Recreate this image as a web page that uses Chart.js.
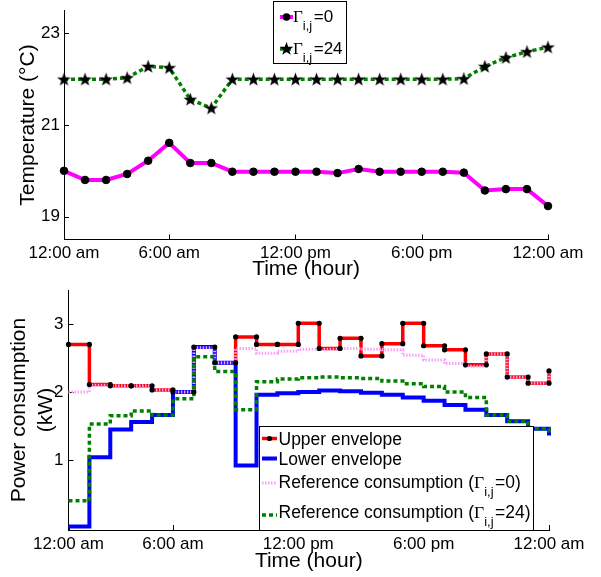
<!DOCTYPE html>
<html>
<head>
<meta charset="utf-8">
<script src="https://cdn.jsdelivr.net/npm/chart.js@4.4.0/dist/chart.umd.min.js"></script>
<style>
  html, body { margin: 0; padding: 0; background: #ffffff; }
  #c1 { position: absolute; left: 0; top: 0; }
  #c2 { position: absolute; left: 0; top: 283px; }
</style>
</head>
<body>
<canvas id="c1" width="601" height="283"></canvas>
<canvas id="c2" width="601" height="294"></canvas>
<script>
// ---------------- data ----------------
const hours = [1,2,3,4,5,6,7,8,9,10,11,12,13,14,15,16,17,18,19,20,21,22,23,24];
const timeTickValues = [1, 6, 12, 18, 24];
const timeTickLabels = ['12:00 am', '6:00 am', '12:00 pm', '6:00 pm', '12:00 am'];

const tempTicks = [19, 21, 23];
const tempGamma0  = [20.00, 19.80, 19.80, 19.93, 20.22, 20.61, 20.17, 20.17, 19.98, 19.98, 19.98, 19.98,
                     19.98, 19.95, 20.04, 19.98, 19.98, 19.98, 19.98, 19.96, 19.57, 19.60, 19.60, 19.23];
const tempGamma24 = [22.00, 22.00, 22.00, 22.03, 22.28, 22.25, 21.56, 21.37, 22.00, 22.00, 22.00, 22.00,
                     22.00, 22.00, 22.00, 22.00, 22.00, 22.00, 22.00, 22.01, 22.28, 22.47, 22.60, 22.70];

const powerTicks = [1, 2, 3];
const upperEnvelope = [2.70, 2.11, 2.09, 2.09, 2.03, 2.00, 2.66, 2.43, 2.81, 2.70, 2.70, 3.01,
                       2.64, 2.79, 2.53, 2.71, 3.01, 2.68, 2.62, 2.40, 2.56, 2.22, 2.13, 2.31];
const lowerEnvelope = [0.02, 1.04, 1.45, 1.56, 1.66, 2.00, 2.66, 2.43, 0.92, 1.96, 1.98, 2.00,
                       2.02, 2.01, 1.99, 1.96, 1.92, 1.87, 1.81, 1.74, 1.66, 1.57, 1.46, 1.36];
const refGamma0     = [2.00, 2.10, 2.09, 2.09, 2.03, 2.00, 2.65, 2.43, 2.64, 2.57, 2.60, 2.63,
                       2.63, 2.64, 2.63, 2.62, 2.54, 2.47, 2.42, 2.38, 2.56, 2.22, 2.13, 2.31];
const refGamma24    = [0.40, 1.53, 1.65, 1.72, 1.66, 1.90, 2.52, 2.30, 1.74, 2.15, 2.19, 2.21,
                       2.22, 2.21, 2.20, 2.16, 2.12, 2.08, 2.00, 1.92, 1.66, 1.57, 1.46, 1.36];

const seriesNamesTop = ['\u0393i,j=0', '\u0393i,j=24'];
const seriesNamesBottom = ['Upper envelope', 'Lower envelope',
  'Reference consumption (\u0393i,j=0)', 'Reference consumption (\u0393i,j=24)'];

// ---------------- helpers ----------------
const SANS = '"Liberation Sans", Arial, Helvetica, sans-serif';
const SERIF = '"Liberation Serif", "Times New Roman", serif';
Chart.defaults.font.family = SANS;
Chart.defaults.color = '#000';

const toXY = (xs, ys) => xs.map((x, i) => ({ x: x, y: ys[i] }));
// stairs vertices (like MATLAB stairs markers)
const stairVertices = (xs, ys) => {
  const out = [{ x: xs[0], y: ys[0] }];
  for (let i = 1; i < xs.length; i++) {
    out.push({ x: xs[i], y: ys[i - 1] });
    out.push({ x: xs[i], y: ys[i] });
  }
  return out;
};

const starImg = (() => {
  const c = document.createElement('canvas');
  c.width = 15; c.height = 15;
  const g = c.getContext('2d');
  g.fillStyle = '#000';
  g.beginPath();
  for (let k = 0; k < 10; k++) {
    const r = (k % 2 === 0) ? 7.2 : 2.9;
    const a = -Math.PI / 2 + k * Math.PI / 5;
    const px = 7.5 + r * Math.cos(a), py = 8.0 + r * Math.sin(a);
    if (k === 0) g.moveTo(px, py); else g.lineTo(px, py);
  }
  g.closePath();
  g.fill();
  return c;
})();

function fixedAxis(size, horizontal) {
  return function (scale) {
    if (horizontal) scale.height = size; else scale.width = size;
    scale.paddingTop = 0; scale.paddingBottom = 0;
    scale.paddingLeft = 0; scale.paddingRight = 0;
  };
}

const inwardTicks = {
  id: 'inwardTicks',
  beforeDatasetsDraw(chart) {
    const ctx = chart.ctx, a = chart.chartArea;
    const xs = chart.scales.x, ys = chart.scales.y;
    ctx.save();
    ctx.strokeStyle = '#000';
    ctx.lineWidth = 1;
    ctx.beginPath();
    xs.ticks.forEach(t => {
      const px = Math.round(xs.getPixelForValue(t.value)) + 0.5;
      ctx.moveTo(px, a.bottom);
      ctx.lineTo(px, a.bottom - 5);
    });
    ys.ticks.forEach(t => {
      const py = Math.round(ys.getPixelForValue(t.value)) + 0.5;
      ctx.moveTo(a.left, py);
      ctx.lineTo(a.left + 5, py);
    });
    ctx.stroke();
    ctx.restore();
  }
};

function makeLegend(cfg) {
  return {
    id: 'richLegend',
    afterDraw(chart) {
      const ctx = chart.ctx;
      const b = cfg.box;
      ctx.save();
      ctx.fillStyle = '#fff';
      ctx.fillRect(b.x, b.y, b.w, b.h);
      ctx.strokeStyle = '#000';
      ctx.lineWidth = 1;
      ctx.strokeRect(b.x + 0.5, b.y + 0.5, b.w, b.h);
      cfg.items.forEach(it => {
        const s = it.sample;
        ctx.save();
        ctx.strokeStyle = s.color;
        ctx.lineWidth = s.width;
        ctx.setLineDash(s.dash || []);
        ctx.beginPath();
        ctx.moveTo(s.x1, s.y);
        ctx.lineTo(s.x2, s.y);
        ctx.stroke();
        ctx.restore();
        const cx = (s.x1 + s.x2) / 2;
        if (s.marker === 'circle') {
          ctx.fillStyle = '#000';
          ctx.beginPath();
          ctx.arc(cx, s.y, s.r, 0, Math.PI * 2);
          ctx.fill();
        } else if (s.marker === 'star') {
          ctx.drawImage(starImg, cx - 7.5, s.y - 8);
        }
        let x = it.x;
        ctx.fillStyle = '#000';
        ctx.textAlign = 'left';
        ctx.textBaseline = 'alphabetic';
        it.parts.forEach(p => {
          ctx.font = p.font;
          ctx.fillText(p.t, x, it.y + (p.dy || 0));
          x += ctx.measureText(p.t).width + (p.gap || 0);
        });
      });
      ctx.restore();
    }
  };
}

function splitGamma(label, size) {
  // label like 'prefix Γi,j=val suffix' -> rich parts with subscript
  const gi = label.indexOf('\u0393');
  const pre = label.slice(0, gi);
  const rest = label.slice(gi + 1);         // 'i,j=0)'
  const sub = rest.slice(0, 3);             // 'i,j'
  const post = rest.slice(3);               // '=0)'
  const parts = [];
  if (pre) parts.push({ t: pre, font: size + 'px ' + SANS });
  parts.push({ t: '\u0393', font: size + 'px ' + SERIF });
  parts.push({ t: sub, font: '13px ' + SANS, dy: 8, gap: 1.5 });
  parts.push({ t: post, font: size + 'px ' + SANS });
  return parts;
}

const tickFont = { size: 17 };
const titleFont = { size: 21, lineHeight: 1.2 };

function timeAxis(heightPx, titlePadBottom) {
  return {
    type: 'linear',
    min: 1, max: 24,
    afterBuildTicks: (s) => { s.ticks = timeTickValues.map(v => ({ value: v })); },
    afterFit: fixedAxis(heightPx, true),
    ticks: {
      font: tickFont, padding: 4, maxRotation: 0, autoSkip: false,
      callback: (v) => timeTickLabels[timeTickValues.indexOf(v)]
    },
    grid: { display: false, drawTicks: false },
    border: { display: true, color: '#000', width: 1 },
    title: { display: true, text: 'Time (hour)', font: titleFont, padding: { top: 0, bottom: titlePadBottom } }
  };
}

// ---------------- chart 1: temperature ----------------
new Chart(document.getElementById('c1'), {
  type: 'line',
  data: {
    datasets: [
      {
        label: seriesNamesTop[0],
        data: toXY(hours, tempGamma0),
        borderColor: '#ff00ff', borderWidth: 4,
        pointRadius: 3.8, pointBackgroundColor: '#000', pointBorderColor: '#000', pointBorderWidth: 1,
        tension: 0, clip: false, order: 2
      },
      {
        label: seriesNamesTop[1],
        data: toXY(hours, tempGamma24),
        borderColor: '#008000', borderWidth: 3.5, borderDash: [4, 3],
        pointStyle: starImg, pointRadius: 7,
        tension: 0, clip: false, order: 1
      }
    ]
  },
  options: {
    responsive: false, animation: false,
    layout: { padding: { left: 0, right: 53, top: 9, bottom: 0 } },
    plugins: { legend: { display: false }, tooltip: { enabled: false } },
    scales: {
      x: timeAxis(43.5, 1),
      y: {
        type: 'linear', min: 18.5, max: 23.5,
        afterBuildTicks: (s) => { s.ticks = tempTicks.map(v => ({ value: v })); },
        afterFit: fixedAxis(64, false),
        ticks: { font: tickFont, padding: 4 },
        grid: { display: false, drawTicks: false },
        border: { display: true, color: '#000', width: 1 },
        title: { display: true, text: 'Temperature (\u00B0C)', font: titleFont, padding: { top: 16, bottom: 0 } }
      }
    }
  },
  plugins: [inwardTicks, makeLegend({
    box: { x: 273, y: 1, w: 73, h: 62 },
    items: [
      { sample: { x1: 280, x2: 293, y: 17, color: '#ff00ff', width: 4, marker: 'circle', r: 3.8 },
        x: 293, y: 22, parts: splitGamma(seriesNamesTop[0], 17) },
      { sample: { x1: 280, x2: 293, y: 49, color: '#008000', width: 3.5, dash: [4, 3], marker: 'star' },
        x: 293, y: 54, parts: splitGamma(seriesNamesTop[1], 17) }
    ]
  })]
});

// ---------------- chart 2: power ----------------
new Chart(document.getElementById('c2'), {
  type: 'line',
  data: {
    datasets: [
      {
        label: seriesNamesBottom[0],
        data: toXY(hours, upperEnvelope),
        stepped: 'before', borderColor: '#ff0000', borderWidth: 3.5,
        pointRadius: 0, clip: false, order: 6
      },
      {
        label: seriesNamesBottom[1],
        data: toXY(hours, lowerEnvelope),
        stepped: 'before', borderColor: '#0000ff', borderWidth: 4,
        pointRadius: 0, clip: false, order: 5
      },
      {
        label: seriesNamesBottom[2],
        data: toXY(hours, refGamma0),
        stepped: 'before', borderColor: '#f6a2f6', borderWidth: 3, borderDash: [1.5, 1.5],
        pointRadius: 0, clip: false, order: 4
      },
      {
        label: seriesNamesBottom[3],
        data: toXY(hours, refGamma24),
        stepped: 'before', borderColor: '#008000', borderWidth: 3.5, borderDash: [4, 3],
        pointRadius: 0, clip: false, order: 3
      },
      {
        label: seriesNamesBottom[0] + ' markers',
        data: stairVertices(hours, upperEnvelope),
        showLine: false, pointRadius: 2.6, pointBackgroundColor: '#000', pointBorderColor: '#000',
        pointBorderWidth: 0, clip: false, order: 1
      }
    ]
  },
  options: {
    responsive: false, animation: false,
    layout: { padding: { left: 0, right: 52, top: 7, bottom: 0 } },
    plugins: { legend: { display: false }, tooltip: { enabled: false } },
    scales: {
      x: timeAxis(47, 3.5),
      y: {
        type: 'linear', min: -0.03, max: 3.5,
        afterBuildTicks: (s) => { s.ticks = powerTicks.map(v => ({ value: v })); },
        afterFit: fixedAxis(68.5, false),
        ticks: { font: tickFont, padding: 5 },
        grid: { display: false, drawTicks: false },
        border: { display: true, color: '#000', width: 1 },
        title: { display: true, text: ['Power consumption', '(kW)'], font: { size: 21, lineHeight: 1.29 }, padding: { top: 5.5, bottom: 0 } }
      }
    }
  },
  plugins: [inwardTicks, makeLegend({
    box: { x: 259, y: 143, w: 274, h: 104 },
    items: [
      { sample: { x1: 262, x2: 277, y: 155.5, color: '#ff0000', width: 3.5, marker: 'circle', r: 2.6 },
        x: 278.5, y: 161.5, parts: [{ t: seriesNamesBottom[0], font: '17.5px ' + SANS }] },
      { sample: { x1: 262, x2: 277, y: 175.5, color: '#0000ff', width: 4 },
        x: 278.5, y: 181.5, parts: [{ t: seriesNamesBottom[1], font: '17.5px ' + SANS }] },
      { sample: { x1: 262, x2: 277, y: 200, color: '#f6a2f6', width: 3, dash: [1.5, 1.5] },
        x: 278.5, y: 205, parts: splitGamma(seriesNamesBottom[2], 17.5) },
      { sample: { x1: 262, x2: 277, y: 232, color: '#008000', width: 3.5, dash: [4, 3] },
        x: 278.5, y: 235, parts: splitGamma(seriesNamesBottom[3], 17.5) }
    ]
  })]
});
</script>
</body>
</html>
